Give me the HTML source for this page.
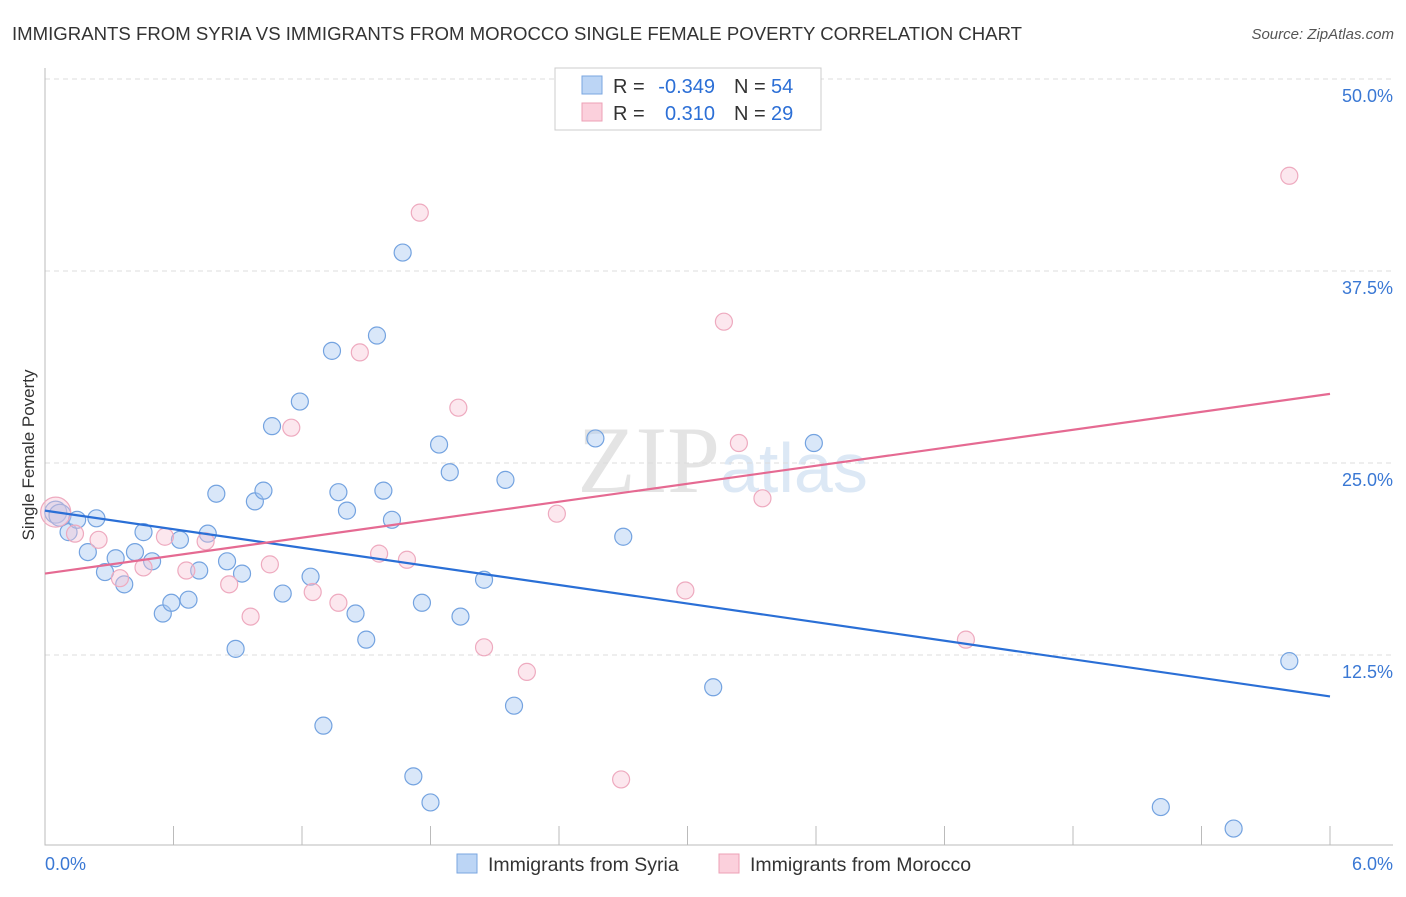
<!DOCTYPE html>
<html><head><meta charset="utf-8"><style>
body{margin:0;background:#fff;font-family:"Liberation Sans",sans-serif}
</style></head><body>
<svg id="c" width="1406" height="892" xmlns="http://www.w3.org/2000/svg" style="font-family:'Liberation Sans',sans-serif">
<text x="12" y="40" font-size="18.6" fill="#333">IMMIGRANTS FROM SYRIA VS IMMIGRANTS FROM MOROCCO SINGLE FEMALE POVERTY CORRELATION CHART</text>
<text x="1394" y="39" font-size="15" fill="#555" font-style="italic" text-anchor="end">Source: ZipAtlas.com</text>
<text x="34" y="455" font-size="17" fill="#333" text-anchor="middle" transform="rotate(-90 34 455)">Single Female Poverty</text>
<text x="720" y="492" font-size="95" fill="#e4e4e4" text-anchor="end" font-family="Liberation Serif">ZIP</text>
<text x="720" y="492" font-size="70" fill="#dce8f5">atlas</text>
<g id="grid"></g><g id="pts"></g><g id="lines"></g>
<g>
<rect x="555" y="68" width="266" height="62" fill="#fff" stroke="#ccc"/>
<rect x="582" y="76" width="20" height="18" fill="#bcd5f5" stroke="#7aa6e0"/>
<rect x="582" y="103" width="20" height="18" fill="#fbd0dc" stroke="#eca0b6"/>
<text x="613" y="93" font-size="20" fill="#333">R =</text>
<text x="715" y="93" font-size="20" fill="#2c6fd6" text-anchor="end">-0.349</text>
<text x="734" y="93" font-size="20" fill="#333">N =</text>
<text x="771" y="93" font-size="20" fill="#2c6fd6">54</text>
<text x="613" y="120" font-size="20" fill="#333">R =</text>
<text x="715" y="120" font-size="20" fill="#2c6fd6" text-anchor="end">0.310</text>
<text x="734" y="120" font-size="20" fill="#333">N =</text>
<text x="771" y="120" font-size="20" fill="#2c6fd6">29</text>
</g>
<g>
<rect x="457" y="854" width="20" height="19" fill="#bcd5f5" stroke="#7aa6e0"/>
<text x="488" y="871" font-size="19.5" fill="#333">Immigrants from Syria</text>
<rect x="719" y="854" width="20" height="19" fill="#fbd0dc" stroke="#eca0b6"/>
<text x="750" y="871" font-size="19.5" fill="#333">Immigrants from Morocco</text>
</g>
</svg>
<script>
const yTicks=[12.5,25,37.5,50];
const yTickLabels=["12.5%","25.0%","37.5%","50.0%"];
const xTickLabels=["0.0%","6.0%"];
const syriaX=[0.05,0.07,0.11,0.15,0.20,0.24,0.28,0.33,0.37,0.42,0.46,0.50,0.55,0.59,0.63,0.67,0.72,0.76,0.80,0.85,0.89,0.92,0.98,1.02,1.06,1.11,1.19,1.24,1.30,1.34,1.37,1.41,1.45,1.50,1.55,1.58,1.62,1.67,1.72,1.76,1.80,1.84,1.89,1.94,2.05,2.15,2.19,2.57,2.70,3.12,3.59,5.21,5.55,5.81];
const syriaY=[21.8,21.6,20.5,21.3,19.2,21.4,17.9,18.8,17.1,19.2,20.5,18.6,15.2,15.9,20.0,16.1,18.0,20.4,23.0,18.6,12.9,17.8,22.5,23.2,27.4,16.5,29.0,17.6,7.9,32.3,23.1,21.9,15.2,13.5,33.3,23.2,21.3,38.7,4.6,15.9,2.9,26.2,24.4,15.0,17.4,23.9,9.2,26.6,20.2,10.4,26.3,2.6,1.2,12.1];
const moroX=[0.05,0.14,0.25,0.35,0.46,0.56,0.66,0.75,0.86,0.96,1.05,1.15,1.25,1.37,1.47,1.56,1.69,1.75,1.93,2.05,2.25,2.39,2.69,2.99,3.17,3.24,3.35,4.30,5.81];
const moroY=[21.8,20.4,20.0,17.5,18.2,20.2,18.0,19.9,17.1,15.0,18.4,27.3,16.6,15.9,32.2,19.1,18.7,41.3,28.6,13.0,11.4,21.7,4.4,16.7,34.2,26.3,22.7,13.5,43.7];
const syriaTrend=[21.9,9.8];
const moroTrend=[17.8,29.5];
const NS="http://www.w3.org/2000/svg";
const X=v=>45+v/6*1285, Y=v=>847-v/50*768;
function mk(t,a,p){const e=document.createElementNS(NS,t);for(const k in a)e.setAttribute(k,a[k]);p.appendChild(e);return e;}
const g=document.getElementById('grid');
yTicks.forEach((t,i)=>{
 const l=mk('line',{x1:45,x2:1393,y1:Y(t),y2:Y(t),stroke:'#ddd','stroke-dasharray':'5,4'},g);
 
 
 const tx=mk('text',{x:1393,y:Y(t)+23,'font-size':18,fill:'#3a78d4','text-anchor':'end'},g);
 tx.textContent=yTickLabels[i];
 
 
});
const ax=mk('path',{d:'M45 68V845H1393',stroke:'#bbb',fill:'none'},g);


for(let i=0;i<=10;i++){const t=mk('line',{x1:X(i*0.6),x2:X(i*0.6),y1:826,y2:845,stroke:'#bbb'},g);
 
 }
[[0,45,'start'],[6,1393,'end']].forEach((d,i)=>{const t=mk('text',{x:d[1],y:870,'font-size':18,fill:'#3a78d4','text-anchor':d[2]},g);t.textContent=xTickLabels[i];
 
 });
const p=document.getElementById('pts');
syriaX.forEach((x,i)=>{const c=mk('circle',{cx:X(x),cy:Y(syriaY[i]),r:i<2?11:8.5,fill:'rgba(170,202,242,0.45)',stroke:'#74a3e0','stroke-width':1.2},p);
 
 });
moroX.forEach((x,i)=>{const c=mk('circle',{cx:X(x),cy:Y(moroY[i]),r:i==0?15:8.5,fill:'rgba(248,196,212,0.4)',stroke:'#eeaabf','stroke-width':1.2},p);
 
 });
const L=document.getElementById('lines');
const a=mk('line',{x1:X(0),x2:X(6),y1:Y(syriaTrend[0]),y2:Y(syriaTrend[1]),stroke:'#2a6fd6','stroke-width':2.2},L);


const b=mk('line',{x1:X(0),x2:X(6),y1:Y(moroTrend[0]),y2:Y(moroTrend[1]),stroke:'#e56a92','stroke-width':2.2},L);


</script>
</body></html>
